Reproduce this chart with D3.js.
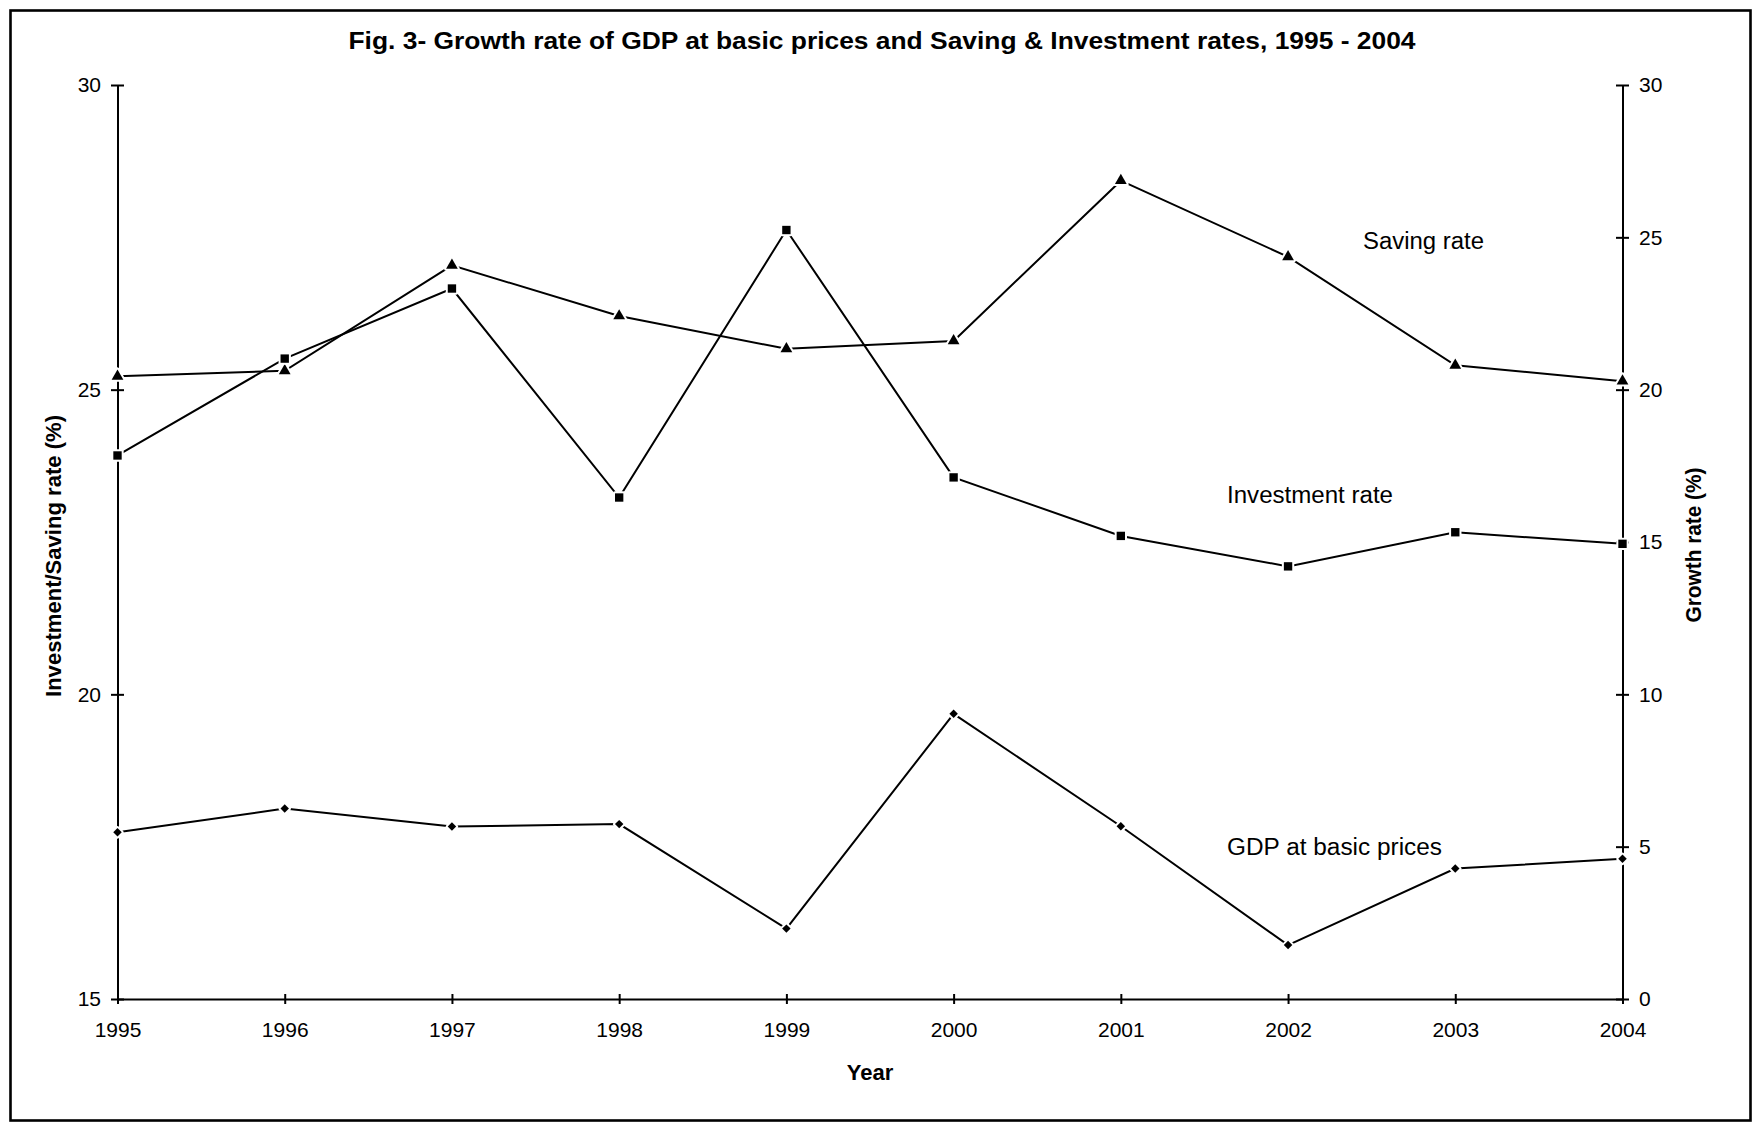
<!DOCTYPE html>
<html>
<head>
<meta charset="utf-8">
<script src="https://cdn.jsdelivr.net/npm/d3@7"></script>
<style>
  html, body { margin: 0; padding: 0; background: #fff; }
  svg { display: block; font-family: "Liberation Sans", Arial, sans-serif; }
</style>
</head>
<body>
<svg id="chart" width="1754" height="1123"></svg>
<script>
// Years on the horizontal axis
const years = [1995, 1996, 1997, 1998, 1999, 2000, 2001, 2002, 2003, 2004];

// Saving and investment rates, % of GDP (left axis)
const savingRate     = [25.22, 25.31, 27.04, 26.21, 25.67, 25.80, 28.43, 27.18, 25.40, 25.14];
const investmentRate = [23.92, 25.51, 26.66, 23.23, 27.62, 23.56, 22.60, 22.10, 22.66, 22.47];

// Growth rate of GDP at basic prices, % (right axis)
const gdpGrowth      = [5.47, 6.25, 5.66, 5.74, 2.31, 9.36, 5.67, 1.77, 4.28, 4.60];

// Axis tick values
const leftTicks  = [15, 20, 25, 30];
const rightTicks = [0, 5, 10, 15, 20, 25, 30];

const svg = d3.select("#chart");

const plot = { left: 117.5, right: 1622.5, top: 85, bottom: 999 };

const x = d3.scalePoint().domain(years).range([plot.left, plot.right]);
const yLeft = d3.scaleLinear().domain([15, 30]).range([plot.bottom, plot.top]);
const yRight = d3.scaleLinear().domain([0, 30]).range([plot.bottom, plot.top]);

// Outer frame
svg.append("rect")
  .attr("x", 10.5).attr("y", 10.5)
  .attr("width", 1740).attr("height", 1110)
  .attr("fill", "none").attr("stroke", "#000").attr("stroke-width", 2.6);

// Title
svg.append("text")
  .attr("x", 882).attr("y", 49)
  .attr("text-anchor", "middle")
  .attr("font-size", 24).attr("font-weight", "bold")
  .attr("textLength", 1067).attr("lengthAdjust", "spacingAndGlyphs")
  .text("Fig. 3- Growth rate of GDP at basic prices and Saving & Investment rates, 1995 - 2004");

function styleAxis(g) {
  g.select(".domain").attr("stroke", "#000").attr("stroke-width", 2);
  g.selectAll(".tick line").attr("stroke", "#000").attr("stroke-width", 2);
  g.selectAll(".tick text").attr("fill", "#000").attr("font-size", 21)
    .attr("font-family", "\"Liberation Sans\", Arial, sans-serif");
}

// Bottom axis (years), ticks crossing the axis line
const gx = svg.append("g")
  .attr("transform", `translate(0,${plot.bottom})`)
  .call(d3.axisBottom(x).tickSizeInner(5).tickSizeOuter(0).tickPadding(18).tickFormat(d3.format("d")));
styleAxis(gx);
gx.selectAll(".tick line").attr("y1", -5);

// Left axis
const gl = svg.append("g")
  .attr("transform", `translate(${plot.left},0)`)
  .call(d3.axisLeft(yLeft).tickValues(leftTicks).tickSizeInner(6.5).tickSizeOuter(0).tickPadding(10));
styleAxis(gl);
gl.selectAll(".tick line").attr("x1", 6.5);

// Right axis
const gr = svg.append("g")
  .attr("transform", `translate(${plot.right},0)`)
  .call(d3.axisRight(yRight).tickValues(rightTicks).tickSizeInner(6.5).tickSizeOuter(0).tickPadding(10));
styleAxis(gr);
gr.selectAll(".tick line").attr("x1", -6.5);

// Axis titles
svg.append("text")
  .attr("x", 870).attr("y", 1080)
  .attr("text-anchor", "middle")
  .attr("font-size", 22).attr("font-weight", "bold")
  .text("Year");

svg.append("text")
  .attr("transform", "translate(61,556) rotate(-90)")
  .attr("text-anchor", "middle")
  .attr("font-size", 22).attr("font-weight", "bold")
  .attr("textLength", 282).attr("lengthAdjust", "spacingAndGlyphs")
  .text("Investment/Saving rate (%)");

svg.append("text")
  .attr("transform", "translate(1701,545) rotate(-90)")
  .attr("text-anchor", "middle")
  .attr("font-size", 22).attr("font-weight", "bold")
  .attr("textLength", 155).attr("lengthAdjust", "spacingAndGlyphs")
  .text("Growth rate (%)");

// Series (GDP markers are squares turned 45 degrees)
const series = [
  { name: "Saving rate", values: savingRate, y: yLeft, symbol: d3.symbolTriangle, size: 60, rot: 0,
    label: { x: 1363, y: 249, len: 121 } },
  { name: "Investment rate", values: investmentRate, y: yLeft, symbol: d3.symbolSquare, size: 70, rot: 0,
    label: { x: 1227, y: 503, len: 166 } },
  { name: "GDP at basic prices", values: gdpGrowth, y: yRight, symbol: d3.symbolSquare, size: 36, rot: 45,
    label: { x: 1227, y: 855, len: 215 } }
];

series.forEach(s => {
  const pts = years.map((yr, i) => [x(yr), s.y(s.values[i])]);
  const line = d3.line();
  svg.append("path")
    .attr("d", line(pts))
    .attr("fill", "none").attr("stroke", "#000").attr("stroke-width", 2)
    .attr("stroke-linejoin", "miter");

  // markers: white halo under a solid black symbol
  const place = d => `translate(${d[0]},${d[1]}) rotate(${s.rot})`;
  const marks = svg.append("g");
  marks.selectAll("path.halo")
    .data(pts)
    .join("path")
    .attr("class", "halo")
    .attr("transform", place)
    .attr("d", d3.symbol(s.symbol, s.size))
    .attr("fill", "#fff").attr("stroke", "#fff").attr("stroke-width", 4)
    .attr("stroke-linejoin", "round");
  marks.selectAll("path.mark")
    .data(pts)
    .join("path")
    .attr("class", "mark")
    .attr("transform", place)
    .attr("d", d3.symbol(s.symbol, s.size))
    .attr("fill", "#000");

  svg.append("text")
    .attr("x", s.label.x).attr("y", s.label.y)
    .attr("font-size", 23)
    .attr("textLength", s.label.len).attr("lengthAdjust", "spacingAndGlyphs")
    .text(s.name);
});
</script>
</body>
</html>
